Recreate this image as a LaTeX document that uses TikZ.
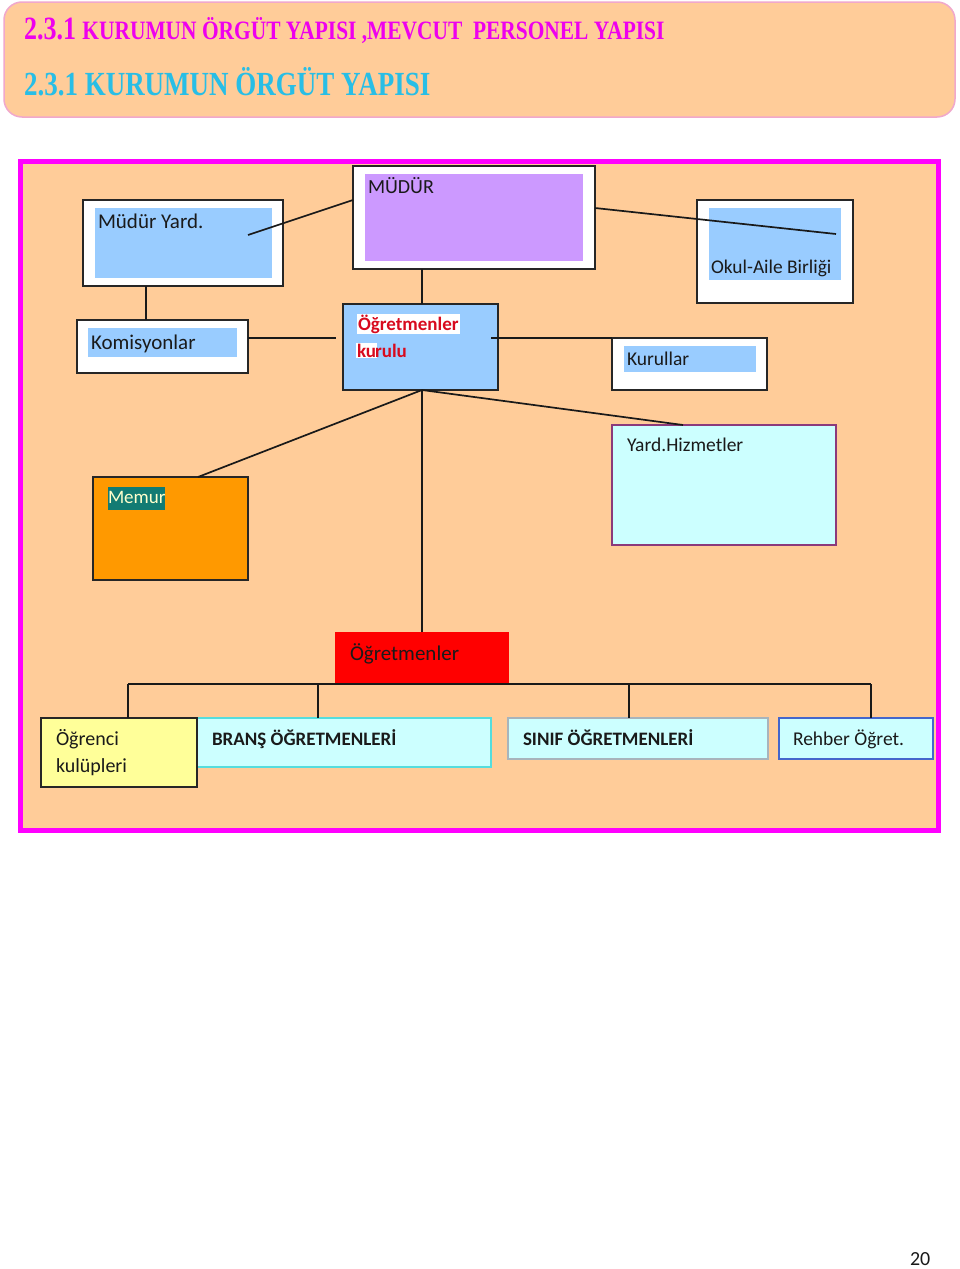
\documentclass[tikz,border=0pt]{standalone}
\usepackage{fontspec}
\setmainfont{Carlito}
\newfontfamily\tnr{Liberation Serif}
\usetikzlibrary{calc}
\definecolor{peach}{HTML}{FFCC99}
\definecolor{hpink}{HTML}{F0A8CC}
\definecolor{hmag}{HTML}{EE00EE}
\definecolor{hcyan}{HTML}{28BEE6}
\definecolor{framemag}{HTML}{FF00FF}
\definecolor{lblue}{HTML}{99CCFF}
\definecolor{lpurple}{HTML}{CC99FF}
\definecolor{lcyan}{HTML}{CCFFFF}
\definecolor{orng}{HTML}{FF9900}
\definecolor{lyellow}{HTML}{FFFF99}
\definecolor{redbox}{HTML}{FF0000}
\definecolor{kred}{HTML}{D80A1E}
\definecolor{tealbg}{HTML}{127B73}
\definecolor{memtext}{HTML}{FFFFCC}
\definecolor{yhborder}{HTML}{8B3A7B}
\definecolor{bransborder}{HTML}{55DDDD}
\definecolor{sinifborder}{HTML}{A8B4BC}
\definecolor{rehborder}{HTML}{4466CC}
\definecolor{txt}{HTML}{1A1A1A}
\setlength{\fboxsep}{1pt}
\begin{document}
\begin{tikzpicture}[x=1pt,y=-1pt,
  every node/.style={inner sep=0pt, outer sep=0pt},
  obox/.style={draw=black!85, line width=1.6pt, fill=white},
  ibox/.style={fill=lblue},
  lbl/.style={anchor=base west, font=\fontsize{20}{24}\selectfont, text=txt},
  conn/.style={draw=black!90, line width=1.7pt}]
\useasboundingbox (0,0) rectangle (960,1269);
\fill[white] (0,0) rectangle (960,1269);

% header
\node[draw=hpink, line width=1.5pt, fill=peach, rounded corners=18pt,
      minimum width=951pt, minimum height=115pt] (header) at (479.5,59.5) {};
\node[anchor=base west, text=hmag, font=\tnr\bfseries] (h1) at (24,39)
  {\scalebox{1}[1.25]{\fontsize{26}{30}\selectfont 2.3.1 }\scalebox{1.01}[1.25]{\fontsize{21.2}{25}\selectfont KURUMUN ÖRGÜT YAPISI ,MEVCUT \ PERSONEL YAPISI}};
\node[anchor=base west, text=hcyan, font=\tnr\bfseries] (h2) at (24,95)
  {\scalebox{1}[1.25]{\fontsize{27}{32}\selectfont 2.3.1 KURUMUN ÖRGÜT YAPISI}};

% frame
\node[draw=framemag, line width=5pt, fill=peach, minimum width=918pt, minimum height=669pt] (frame) at (479,495.5) {};

% boxes
\node[obox, minimum width=200pt, minimum height=86pt] (myOuter) at (183,243) {};
\node[ibox, minimum width=177pt, minimum height=70pt] (myInner) at (183.5,243) {};
\node[obox, minimum width=242pt, minimum height=103pt] (mdOuter) at (474,217.5) {};
\node[fill=lpurple, minimum width=218pt, minimum height=87pt] (mdInner) at (474,217.5) {};
\node[obox, minimum width=156pt, minimum height=103pt] (oaOuter) at (775,251.5) {};
\node[ibox, minimum width=132pt, minimum height=72pt] (oaInner) at (775,244) {};
\node[obox, minimum width=171pt, minimum height=53pt] (komOuter) at (162.5,346.5) {};
\node[ibox, minimum width=149pt, minimum height=29pt] (komInner) at (162.5,342.5) {};
\node[obox, fill=lblue, minimum width=155pt, minimum height=86pt] (kurulu) at (420.5,347) {};
\node[obox, minimum width=155pt, minimum height=52pt] (kurOuter) at (689.5,364) {};
\node[ibox, minimum width=132pt, minimum height=26pt] (kurInner) at (690,359) {};
\node[draw=yhborder, line width=1.6pt, fill=lcyan, minimum width=224pt, minimum height=120pt] (yh) at (724,485) {};
\node[obox, fill=orng, minimum width=155pt, minimum height=103pt] (memur) at (170.5,528.5) {};
\node[fill=redbox, minimum width=174pt, minimum height=51pt] (ogr) at (422,657.5) {};
\node[draw=bransborder, line width=1.6pt, fill=lcyan, minimum width=294pt, minimum height=49pt] (brans) at (344,742.5) {};
\node[obox, fill=lyellow, minimum width=156pt, minimum height=69pt] (ok) at (119,752.5) {};
\node[draw=sinifborder, line width=1.4pt, fill=lcyan, minimum width=260pt, minimum height=41pt] (sinif) at (638,738.5) {};
\node[draw=rehborder, line width=1.6pt, fill=lcyan, minimum width=154pt, minimum height=41pt] (rehber) at (856,738.5) {};

% texts
\node[lbl] (tmd) at (368,193) {MÜDÜR};
\node[lbl, font=\fontsize{21}{25}\selectfont] (tmy) at (98,228) {Müdür Yard.};
\node[lbl, font=\fontsize{19.4}{23}\selectfont] (toa) at (711,273) {Okul-Aile Birliği};
\node[lbl, font=\fontsize{21}{25}\selectfont] (tkom) at (91,349) {Komisyonlar};
\node[lbl, font=\fontsize{19}{23}\selectfont\bfseries, text=kred, fill=white, inner sep=1pt] (tk1) at (357,330) {Öğretmenler};
\node[lbl, font=\fontsize{19}{23}\selectfont\bfseries, text=kred] (tk2) at (356,357) {\colorbox{white}{ku}\kern-2pt rulu};
\node[lbl, font=\fontsize{19.5}{23}\selectfont] (tkur) at (627,365) {Kurullar};
\node[lbl, font=\fontsize{19.5}{23}\selectfont] (tyh) at (627,451) {Yard.Hizmetler};
\node[lbl, fill=tealbg, text=memtext, font=\fontsize{19}{23}\selectfont] (tmem) at (108,503) {\strut Memur};
\node[lbl, font=\fontsize{21}{25}\selectfont] (togr) at (350,660) {Öğretmenler};
\node[lbl] (tok1) at (56,745) {Öğrenci};
\node[lbl] (tok2) at (56,772) {kulüpleri};
\node[lbl, font=\fontsize{19}{23}\selectfont\bfseries] (tbr) at (212,745) {BRANŞ ÖĞRETMENLERİ};
\node[lbl, font=\fontsize{19}{23}\selectfont\bfseries] (tsn) at (523,745) {SINIF ÖĞRETMENLERİ};
\node[lbl, font=\fontsize{19.5}{23}\selectfont] (trh) at (793,745) {Rehber Öğret.};
\node[lbl] (page) at (910,1265) {20};

% connectors
\draw[conn] ([xshift=-24pt,yshift=8pt]myInner.east) -- ([yshift=17.5pt]mdOuter.west);
\draw[conn] ([yshift=9.5pt]mdOuter.east) -- ([xshift=-5pt,yshift=10pt]oaInner.east);
\draw[conn] ([xshift=63pt]myOuter.south west) -- ([xshift=69pt]komOuter.north west);
\draw[conn] ([xshift=-52pt]mdOuter.south) -- ([xshift=1.5pt]kurulu.north);
\draw[conn] ([yshift=8.5pt]komOuter.east) -- ([xshift=-7pt,yshift=9pt]kurulu.west);
\draw[conn] ([xshift=-7pt,yshift=9pt]kurulu.east) -- ([yshift=26pt]kurOuter.west);
\draw[conn] ([xshift=1.5pt]kurulu.south) -- ([xshift=27.5pt]memur.north);
\draw[conn] ([xshift=1.5pt]kurulu.south) -- ([xshift=-41pt]yh.north);
\draw[conn] ([xshift=1.5pt]kurulu.south) -- (ogr.north);
\coordinate (busL) at (128,684);
\coordinate (busB) at (318,684);
\coordinate (busS) at (629,684);
\coordinate (busR) at (871,684);
\draw[conn] (busL) -- (busR);
\draw[conn] (busL) -- ([xshift=9pt]ok.north);
\draw[conn] (busB) -- ([xshift=-26pt]brans.north);
\draw[conn] (busS) -- ([xshift=-9pt]sinif.north);
\draw[conn] (busR) -- ([xshift=15pt]rehber.north);
\end{tikzpicture}
\end{document}
